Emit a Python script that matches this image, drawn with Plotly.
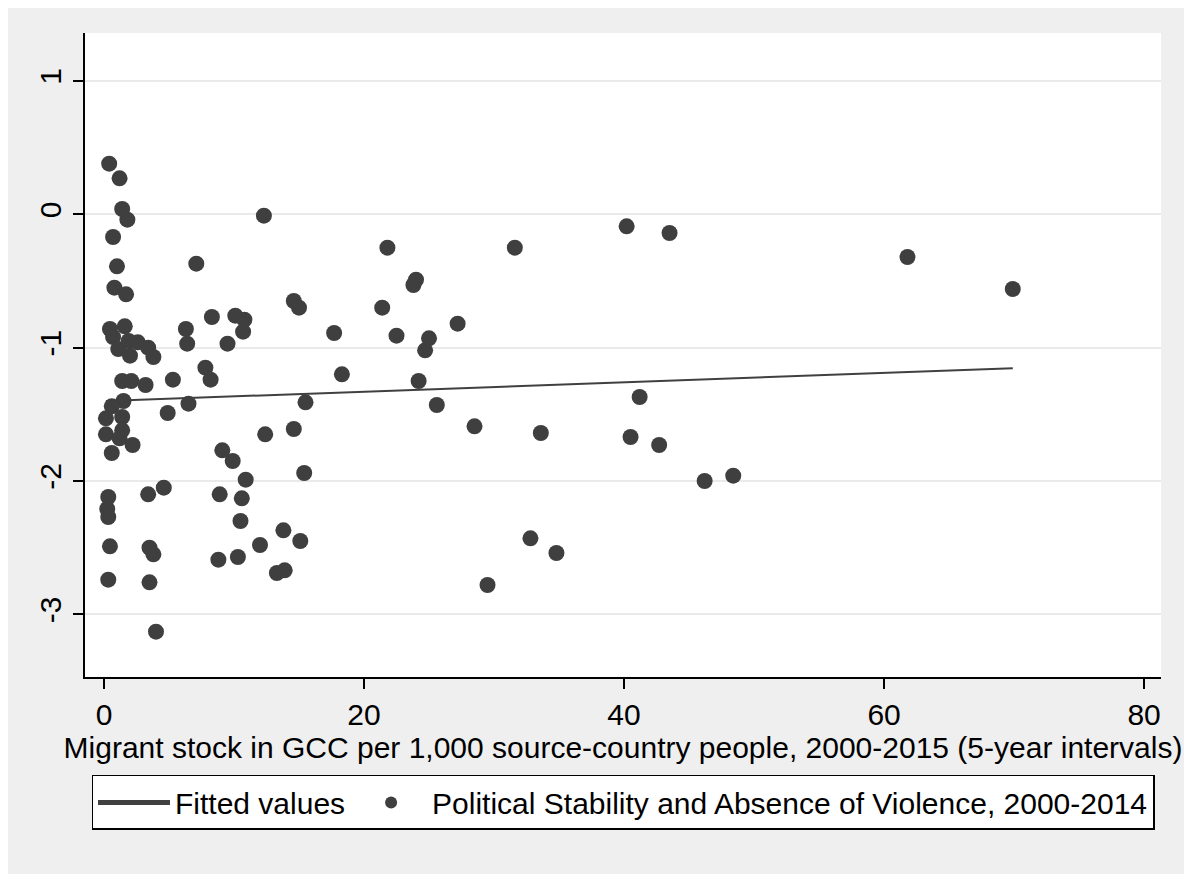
import plotly.graph_objects as go

# Data
migrant_stock = [0.4, 1.2, 1.4, 1.8, 0.7, 1.0, 0.8, 1.7, 7.1, 8.3, 10.1, 10.8, 10.7, 9.5,
                 6.3, 6.4, 0.46, 1.6, 0.7, 1.1, 2.0, 1.9, 2.6, 3.4, 3.8, 1.4, 2.1, 3.2,
                 5.3, 7.8, 8.2, 1.5, 0.6, 0.15, 1.4, 1.4, 0.15, 1.2, 2.2, 0.6, 4.9, 6.5,
                 12.4, 9.1, 9.9, 10.9, 0.33, 0.25, 0.33, 3.4, 4.6, 8.9, 10.6, 10.5, 0.46,
                 3.5, 3.8, 8.8, 10.3, 12.0, 13.3, 0.33, 3.5, 4.0, 12.3, 14.6, 15.0, 17.7,
                 18.3, 15.5, 14.6, 15.4, 13.8, 15.1, 13.9, 21.4, 21.8, 22.5, 23.8, 24.0,
                 25.0, 24.7, 24.2, 25.6, 27.2, 28.5, 31.6, 33.6, 32.8, 34.8, 29.5, 40.2,
                 43.5, 41.2, 40.5, 42.7, 46.2, 48.4, 61.8, 69.9]
stability = [0.38, 0.27, 0.04, -0.04, -0.17, -0.39, -0.55, -0.60, -0.37, -0.77, -0.76, -0.79,
             -0.88, -0.97, -0.86, -0.97, -0.86, -0.84, -0.92, -1.01, -1.06, -0.95, -0.96,
             -1.00, -1.07, -1.25, -1.25, -1.28, -1.24, -1.15, -1.24, -1.40, -1.44, -1.53,
             -1.52, -1.62, -1.65, -1.68, -1.73, -1.79, -1.49, -1.42, -1.65, -1.77, -1.85,
             -1.99, -2.12, -2.21, -2.27, -2.10, -2.05, -2.10, -2.13, -2.30, -2.49, -2.50,
             -2.55, -2.59, -2.57, -2.48, -2.69, -2.74, -2.76, -3.13, -0.01, -0.65, -0.70,
             -0.89, -1.20, -1.41, -1.61, -1.94, -2.37, -2.45, -2.67, -0.70, -0.25, -0.91,
             -0.53, -0.49, -0.93, -1.02, -1.25, -1.43, -0.82, -1.59, -0.25, -1.64, -2.43,
             -2.54, -2.78, -0.09, -0.14, -1.37, -1.67, -1.73, -2.00, -1.96, -0.32, -0.56]
fit_x = [0.15, 69.9]
fit_y = [-1.40, -1.155]

x_ticks = [0, 20, 40, 60, 80]
y_ticks = [1, 0, -1, -2, -3]
y_tick_labels = ["1", "0", "-1", "-2", "-3"]

x_title = "Migrant stock in GCC per 1,000 source-country people, 2000-2015 (5-year intervals)"
fit_name = "Fitted values"
scatter_name = "Political Stability and Absence of Violence, 2000-2014"

FONT = "Liberation Sans, Arial, sans-serif"
DOT = "#3f3f3f"
FS = 30

fig = go.Figure()
fig.add_trace(go.Scatter(
    x=fit_x, y=fit_y, mode="lines", name=fit_name,
    line=dict(color="#404040", width=2),
))
fig.add_trace(go.Scatter(
    x=migrant_stock, y=stability, mode="markers", name=scatter_name,
    marker=dict(color=DOT, size=16, line=dict(width=0)),
))

fig.update_layout(
    width=1184, height=866,
    margin=dict(l=77, r=31, t=25, b=197),
    paper_bgcolor="#efefef",
    plot_bgcolor="white",
    font=dict(family=FONT, size=FS, color="black"),
    showlegend=True,
    legend=dict(
        orientation="h", x=0.5, xanchor="center", y=-0.152, yanchor="top",
        bgcolor="white", bordercolor="black", borderwidth=1.5,
        font=dict(size=FS), itemsizing="constant", traceorder="normal",
        itemwidth=72,
    ),
)
fig.update_xaxes(
    range=[-1.46, 81.3], tickvals=x_ticks, ticks="outside", ticklen=10,
    tickcolor="black", tickwidth=1.5, showline=True, linecolor="black", linewidth=1.5,
    showgrid=False, zeroline=False,
    title=dict(text=x_title, font=dict(size=FS), standoff=0),
    tickfont=dict(size=FS),
)
fig.update_yaxes(
    range=[-3.47, 1.36], tickvals=y_ticks, ticktext=y_tick_labels, tickangle=-90,
    ticks="outside", ticklen=10, tickcolor="black", tickwidth=1.5,
    showline=True, linecolor="black", linewidth=1.5,
    showgrid=True, gridcolor="#eaeaea", gridwidth=2, zeroline=False,
    tickfont=dict(size=FS),
)

fig.write_html("out.html")
